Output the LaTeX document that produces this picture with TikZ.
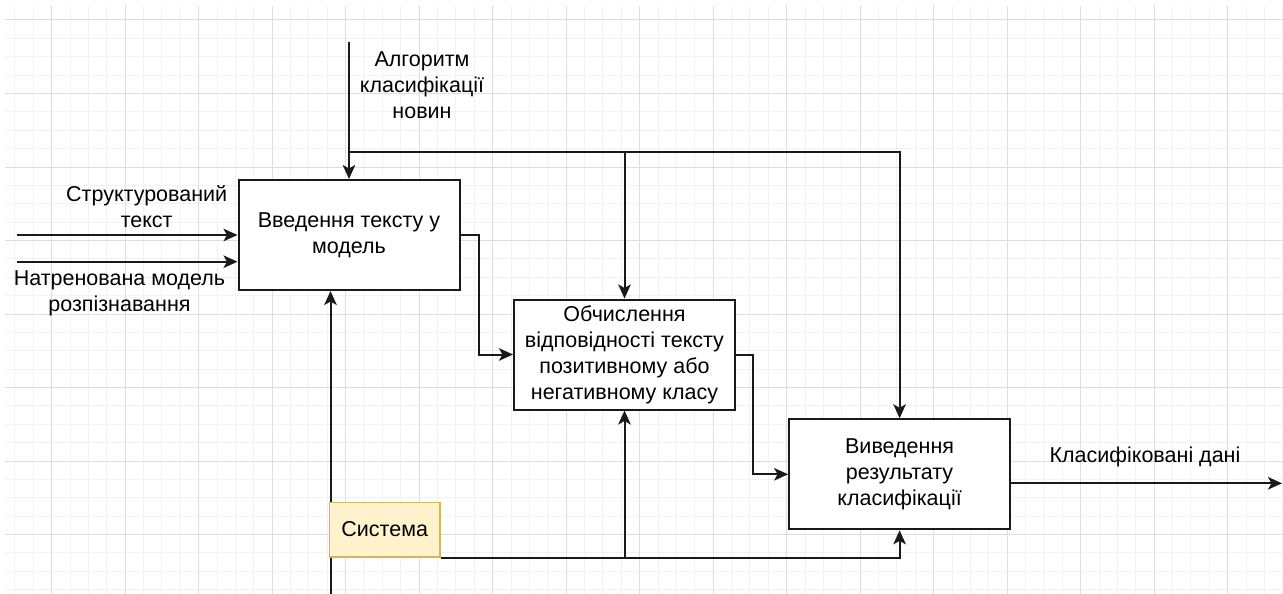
\documentclass[tikz,border=0pt]{standalone}
\usepackage{fontspec}
\setmainfont{Liberation Sans}
\usetikzlibrary{arrows.meta}
\newcommand{\labelfont}{\fontsize{21.5}{26}\selectfont}
\begin{document}
\begin{tikzpicture}[x=1pt,y=-1pt,
  gridminor/.style={draw=black!5, line width=1pt},
  gridmajor/.style={draw=black!13, line width=1pt},
  proc/.style={draw=black!90, line width=2pt, fill=white,
    minimum width=221pt, minimum height=110pt, inner sep=0pt,
    align=center, font=\labelfont, text=black},
  sysbox/.style={draw={rgb,255:red,214;green,182;blue,86}, line width=1.6pt,
    fill={rgb,255:red,255;green,242;blue,204},
    minimum width=110.7pt, minimum height=54.4pt, inner sep=0pt,
    font=\labelfont, text=black},
  lbl/.style={align=center, font=\labelfont, inner sep=0pt, text=black},
  flow/.style={draw=black!90, line width=2pt,
    -{Stealth[length=14pt,width=12.5pt,inset=3.5pt]}}]

% canvas
\useasboundingbox (0,0) rectangle (1283,594);
\fill[white] (0,0) rectangle (1283,594);

% background grid
\begin{scope}
  \clip (5,6) rectangle (1283,594);
  \foreach \k in {0,...,69} {
    \draw[gridminor] ({14.95+18.375*\k},6) -- ({14.95+18.375*\k},594);
  }
  \foreach \k in {0,...,31} {
    \draw[gridminor] (5,{20+18.375*\k}) -- (1283,{20+18.375*\k});
  }
  \foreach \m in {0,...,16} {
    \draw[gridmajor] ({51.7+73.5*\m},6) -- ({51.7+73.5*\m},594);
  }
  \foreach \m in {0,...,7} {
    \draw[gridmajor] (5,{20+73.5*\m}) -- (1283,{20+73.5*\m});
  }
\end{scope}

% free ends of the outer arrows
\coordinate (algtop) at (349,42.3);
\coordinate (ctrl) at (349,152.3);
\coordinate (in1) at (17,235);
\coordinate (in2) at (17,261.7);
\coordinate (mechbot) at (330.5,594);
\coordinate (outfrom) at (1010,483.3);
\coordinate (outend) at (1282,483.3);

% activity boxes
\node[proc] (b1) at (349,235) {Введення тексту у\\модель};
\node[proc] (b2) at (624.5,354.5) {Обчислення\\відповідності тексту\\позитивному або\\негативному класу};
\node[proc] (b3) at (899.6,474.3) {Виведення\\результату\\класифікації};

% mechanism line runs behind the Система box
\draw[flow] (mechbot) -- (mechbot |- b1.south);
\node[sysbox] (sys) at (384.7,529.5) {Система};

% controls
\draw[flow] (algtop) -- (algtop |- b1.north);
\draw[flow] (ctrl) -| (b3.north);
\draw[flow] (b2.north |- ctrl) -- (b2.north);

% inputs
\draw[flow] (in1) -- (in1 -| b1.west);
\draw[flow] (in2) -- (in2 -| b1.west);

% flow between activities
\draw[flow] (b1.east) -- ++(18,0) |- (b2.west);
\draw[flow] (b2.east) -- ++(17.3,0) |- (b3.west);

% output
\draw[flow] (outfrom) -- (outend);

% mechanism branches
\draw[flow] (sys.south east) -| (b3.south);
\draw[flow] (b2.south |- sys.south) -- (b2.south);

% labels
\node[lbl] (lalg) at (422,85) {Алгоритм\\класифікації\\новин};
\node[lbl] (lin1) at (146.7,207) {Структурований\\текст};
\node[lbl] (lin2) at (119.5,293.3) {Натренована модель\\розпізнавання};
\node[lbl, anchor=base] (lout) at (1145,462.3) {Класифіковані дані};
\end{tikzpicture}
\end{document}
